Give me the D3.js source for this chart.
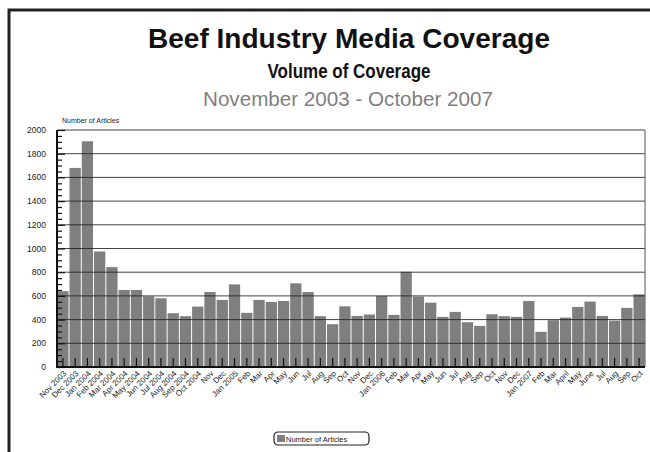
<!DOCTYPE html>
<html lang="en">
<head>
<meta charset="UTF-8">
<title>Beef Industry Media Coverage</title>
<script src="https://d3js.org/d3.v7.min.js"></script>
<style>
    body { margin: 0; background: #fff; }
    svg { display: block; }
    .tick-label { font-family: "Liberation Sans", Arial, sans-serif; font-size: 8px; fill: #222; }
    .y-label { font-family: "Liberation Sans", Arial, sans-serif; font-size: 8.5px; fill: #222; }
</style>
</head>
<body>
<script>
    // months Nov 2003 - Oct 2007
    const months = ["Nov 2003", "Dec 2003", "Jan 2004", "Feb 2004", "Mar 2004", "Apr 2004",
        "May 2004", "Jun 2004", "Jul 2004", "Aug 2004", "Sep 2004", "Oct 2004",
        "Nov", "Dec", "Jan 2005", "Feb", "Mar", "Apr", "May", "Jun", "Jul", "Aug", "Sep", "Oct",
        "Nov ", "Dec ", "Jan 2006", "Feb ", "Mar ", "Apr ", "May ", "Jun ", "Jul ", "Aug ", "Sep ", "Oct ",
        "Nov  ", "Dec  ", "Jan 2007", "Feb  ", "Mar  ", "April", "May  ", "June", "Jul  ", "Aug  ", "Sep  ", "Oct  "];
    const articles = [640, 1680, 1905, 975, 843, 650, 650, 596, 580, 454, 429, 510,
        633, 566, 697, 457, 566, 549, 557, 706, 633, 429, 361, 512,
        431, 443, 600, 440, 804, 594, 543, 423, 465, 378, 347, 445,
        429, 423, 557, 297, 395, 417, 507, 552, 431, 392, 499, 613];
    const yTicks = [0, 200, 400, 600, 800, 1000, 1200, 1400, 1600, 1800, 2000];

    const width = 650, height = 452;
    const margin = {top: 130, right: 5, bottom: 85, left: 57};

    const svg = d3.select("body").append("svg")
        .attr("width", width)
        .attr("height", height);

    // outer frame (right and bottom fall outside the picture)
    svg.append("path")
        .attr("d", `M9,${height + 5} L9,10 L${width + 5},10`)
        .attr("fill", "none")
        .attr("stroke", "#222")
        .attr("stroke-width", 3);

    // titles - condensed look via textLength
    svg.append("text")
        .attr("x", 349).attr("y", 48)
        .attr("text-anchor", "middle")
        .attr("textLength", 402)
        .attr("lengthAdjust", "spacingAndGlyphs")
        .style("font-family", "'Liberation Sans', Arial, sans-serif")
        .style("font-weight", "bold")
        .style("font-size", "28px")
        .style("fill", "#111")
        .text("Beef Industry Media Coverage");
    svg.append("text")
        .attr("x", 349).attr("y", 78)
        .attr("text-anchor", "middle")
        .attr("textLength", 163)
        .attr("lengthAdjust", "spacingAndGlyphs")
        .style("font-family", "'Liberation Sans', Arial, sans-serif")
        .style("font-weight", "bold")
        .style("font-size", "21px")
        .style("fill", "#111")
        .text("Volume of Coverage");
    svg.append("text")
        .attr("x", 348).attr("y", 106)
        .attr("text-anchor", "middle")
        .attr("textLength", 290)
        .attr("lengthAdjust", "spacingAndGlyphs")
        .style("font-family", "'Liberation Sans', Arial, sans-serif")
        .style("font-size", "20px")
        .style("fill", "#7f7f7f")
        .text("November 2003 - October 2007");

    const x = d3.scaleBand()
        .domain(months)
        .range([margin.left, width - margin.right])
        .paddingInner(0.08)
        .paddingOuter(0.02);
    const y = d3.scaleLinear()
        .domain([0, 2000])
        .range([height - margin.bottom, margin.top]);

    const plotL = margin.left, plotR = width - margin.right;

    // bars
    svg.append("g")
        .selectAll("rect")
        .data(articles)
        .enter()
        .append("rect")
        .attr("x", (d, i) => x(months[i]))
        .attr("y", d => y(d))
        .attr("width", x.bandwidth())
        .attr("height", d => y(0) - y(d))
        .attr("fill", "#7f7f7f");

    // gridlines over bars
    svg.append("g")
        .selectAll("line")
        .data(yTicks.slice(1))
        .enter()
        .append("line")
        .attr("x1", plotL).attr("x2", plotR)
        .attr("y1", d => y(d)).attr("y2", d => y(d))
        .attr("stroke", "#222")
        .attr("stroke-opacity", 0.85)
        .attr("stroke-width", 1);

    // right edge of plot
    svg.append("line")
        .attr("x1", plotR).attr("x2", plotR)
        .attr("y1", y(2000)).attr("y2", y(0))
        .attr("stroke", "#555");

    // y axis with minor ticks inside
    const yAxis = svg.append("g")
        .attr("transform", `translate(${plotL},0)`)
        .call(d3.axisRight(y).tickValues(d3.range(0, 2001, 50)).tickSize(5).tickFormat(""));
    yAxis.select(".domain").remove();
    yAxis.selectAll(".tick line").attr("stroke", "#111").attr("stroke-width", 1.2)
        .attr("x2", d => d % 200 === 0 ? 8 : 5);
    svg.append("line")
        .attr("x1", plotL).attr("x2", plotL)
        .attr("y1", y(2000)).attr("y2", y(0) + 1)
        .attr("stroke", "#111").attr("stroke-width", 2);

    svg.append("g")
        .selectAll("text")
        .data(yTicks)
        .enter()
        .append("text")
        .attr("class", "y-label")
        .attr("x", 46)
        .attr("y", d => y(d) + 3)
        .attr("text-anchor", "end")
        .text(d => d);

    svg.append("text")
        .attr("class", "tick-label")
        .style("font-size", "7px")
        .attr("x", 62).attr("y", 123)
        .text("Number of Articles");

    // x axis: ticks pointing up at band centers
    const xAxis = svg.append("g")
        .attr("transform", `translate(0,${y(0)})`)
        .call(d3.axisTop(x).tickSize(9).tickFormat(""));
    xAxis.select(".domain").remove();
    xAxis.selectAll(".tick line").attr("stroke", "#111").attr("stroke-width", 1.2);
    svg.append("line")
        .attr("x1", plotL - 1).attr("x2", plotR)
        .attr("y1", y(0)).attr("y2", y(0))
        .attr("stroke", "#111").attr("stroke-width", 2);

    svg.append("g")
        .selectAll("text")
        .data(months)
        .enter()
        .append("text")
        .attr("class", "tick-label")
        .attr("text-anchor", "end")
        .attr("transform", d => `translate(${x(d) + x.bandwidth() / 2 + 4},${y(0) + 7}) rotate(-45)`)
        .text(d => d.trim());

    // legend
    const legend = svg.append("g").attr("transform", "translate(274,432)");
    legend.append("rect")
        .attr("width", 95).attr("height", 13)
        .attr("rx", 4)
        .attr("fill", "#fff")
        .attr("stroke", "#222")
        .attr("stroke-width", 1.2);
    legend.append("rect")
        .attr("x", 3).attr("y", 3)
        .attr("width", 8).attr("height", 7)
        .attr("fill", "#7f7f7f");
    legend.append("text")
        .attr("class", "tick-label")
        .attr("x", 12).attr("y", 9.5)
        .style("font-size", "7.5px")
        .text("Number of Articles");
</script>
</body>
</html>
